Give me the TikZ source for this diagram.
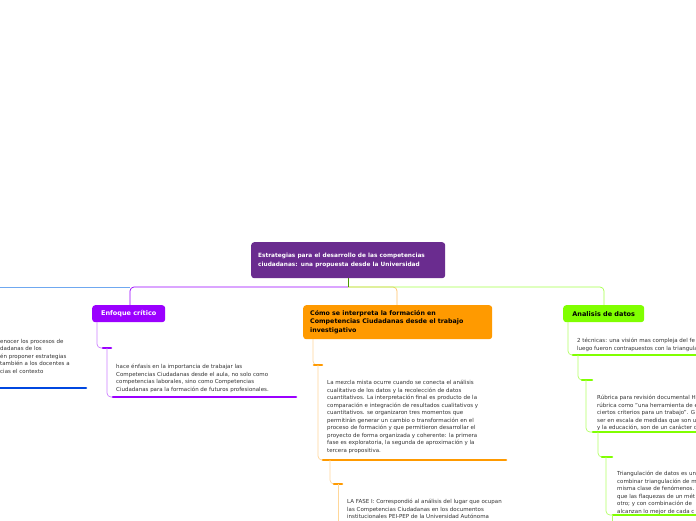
\documentclass[tikz,border=0pt]{standalone}
\usepackage{fontspec}
\setmainfont{DejaVu Sans}
\usetikzlibrary{positioning}
\definecolor{rootc}{HTML}{6A2C8F}
\definecolor{critc}{HTML}{9B00FF}
\definecolor{orac}{HTML}{FF9A00}
\definecolor{grnc}{HTML}{80FF00}
\definecolor{bluc}{HTML}{0047E0}
\definecolor{lbluc}{HTML}{6FA8F0}
\definecolor{txtc}{HTML}{333333}
\begin{document}
\begin{tikzpicture}
      [ x=1pt, y=-1pt,
        topic/.style={rounded corners=3pt, anchor=north west, inner sep=0pt, font=\bfseries\fontsize{6.5}{9}\selectfont},
        leaf/.style={anchor=north west, inner sep=0pt, align=left, text=txtc, font=\fontsize{5.5}{7.5}\selectfont},
        bar/.style={line width=2.6pt, line cap=round},
        link/.style={line width=0.7pt, rounded corners=4pt}
      ]
      \useasboundingbox (0,0) rectangle (696,520);
      \clip (0,0) rectangle (696,520);
      \fill[white] (0,0) rectangle (696,520);

      % main branches
      \draw[link, lbluc] (-5,287) -- (130,287);
      \draw[link, critc] (130,305) -- (130,287) -- (348,287);
      \draw[link, orac!60] (397,305) -- (397,287) -- (348,287);
      \draw[link, grnc!70] (604,305) -- (604,287) -- (348,287);
      \draw[link, grnc!60!black] (348,278) -- (348,287);

      \node[topic, fill=rootc, text=white, minimum width=194pt, minimum height=36pt, text width=180pt, align=left, inner xsep=7pt]
            (root) at (251,242) {\fontsize{5.8}{11}\selectfont Estrategias para el desarrollo de las competencias\\ciudadanas: una propuesta desde la Universidad};
      \node[topic, fill=critc, text=white, minimum width=73pt, minimum height=17pt, align=center]
            (crit) at (92,305) {Enfoque crítico};
      \node[topic, fill=orac, minimum width=189pt, minimum height=34pt, text width=175pt, align=left, inner xsep=7pt]
            (como) at (303,305) {\fontsize{6.3}{8.8}\selectfont Cómo se interpreta la formación en\\Competencias Ciudadanas desde el trabajo\\investigativo};
      \node[topic, fill=grnc, minimum width=81pt, minimum height=17pt, align=center]
            (anal) at (563,305) {Analisis de datos};

      % left branch (cut off)
      \node[leaf] (izq) at (0,339) {enocer los procesos de\\dadanas de los\\én proponer estrategias\\también a los docentes a\\cias el contexto};
      \draw[bar, bluc] (-5,388) -- (86,388);

      % enfoque critico
      \coordinate (c1) at (107,348);
      \draw[link, critc!50] (97,322) |- (c1);
      \draw[bar, critc] (103,348) -- (111,348);
      \node[leaf] (crit1) at (116,364) {hace énfasis en la importancia de trabajar las\\Competencias Ciudadanas desde el aula, no solo como\\competencias laborales, sino como Competencias\\Ciudadanas para la formación de futuros profesionales.};
      \draw[link, critc!50] (c1) |- (113,397);
      \draw[bar, critc] (113,397) -- (296,397);

      % como se interpreta
      \coordinate (o1) at (318,365);
      \draw[link, orac!40] (313,339) |- (o1);
      \draw[bar, orac] (314,365) -- (322,365);
      \node[leaf] (como1) at (327,380) {La mezcla mista ocurre cuando se conecta el análisis\\cualitativo de los datos y la recolección de datos\\cuantitativos. La interpretación final es producto de la\\comparación e integración de resultados cualitativos y\\cuantitativos. se organizaron tres momentos que\\permitirán generar un cambio o transformación en el\\proceso de formación y que permitieron desarrollar el\\proyecto de forma organizada y coherente: la primera\\fase es exploratoria, la segunda de aproximación y la\\tercera propositiva.};
      \draw[link, orac!40] (o1) |- (323,460);
      \draw[bar, orac] (323,460) -- (506,460);
      \coordinate (o2) at (338,484);
      \draw[link, orac!40] (330,460) |- (o2);
      \draw[bar, orac] (334,484) -- (342,484);
      \node[leaf] (como2) at (347,499) {LA FASE I: Correspondió al análisis del lugar que ocupan\\las Competencias Ciudadanas en los documentos\\institucionales PEI-PEP de la Universidad Autónoma};
      \draw[link, orac!40] (o2) -- (338,525);

      % analisis de datos
      \draw[link, grnc!60] (568,322) |- (573,355);
      \node[leaf] (anal1) at (577,338) {2 técnicas: una visión mas compleja del fe\\luego fueron contrapuestos con la triangula};
      \draw[bar, grnc] (573,355) -- (700,355);
      \coordinate (g1) at (586,380);
      \draw[link, grnc!60] (578,355) |- (g1);
      \draw[bar, grnc] (582,380) -- (592,380);
      \node[leaf] (anal2) at (597,395) {Rúbrica para revisión documental H\\rúbrica como "una herramienta de e\\ciertos criterios para un trabajo". G\\ser en escala de medidas que son u\\y la educación, son de un carácter c};
      \draw[link, grnc!60] (g1) |- (593,432);
      \draw[bar, grnc] (593,432) -- (700,432);
      \coordinate (g2) at (606,457);
      \draw[link, grnc!60] (598,432) |- (g2);
      \draw[bar, grnc] (602,457) -- (612,457);
      \node[leaf] (anal3) at (617,471) {Triangulación de datos es un\\combinar triangulación de m\\misma clase de fenómenos.\\que las flaquezas de un mét\\otro; y con combinación de \\alcanzan lo mejor de cada c};
      \draw[link, grnc!60] (g2) |- (613,515);
      \draw[bar, grnc] (613,515) -- (700,515);
      \draw[link, grnc!60] (612,515) -- (612,525);
\end{tikzpicture}
\end{document}
